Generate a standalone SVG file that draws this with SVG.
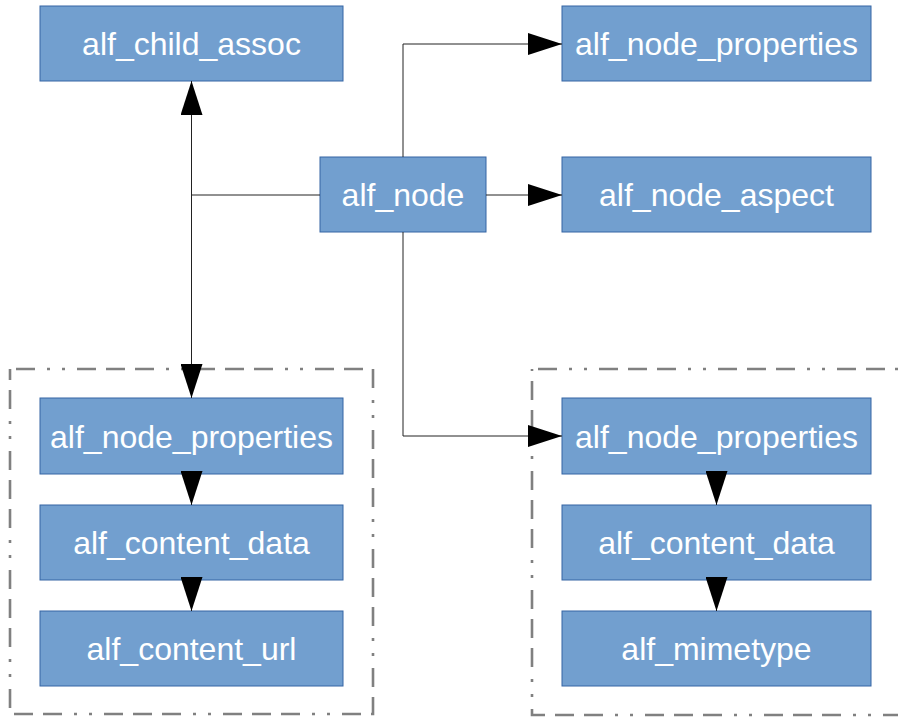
<svg xmlns="http://www.w3.org/2000/svg" width="898" height="718" viewBox="0 0 898 718">
  <style>
    .node rect { fill: #729fcf; stroke: #3465a4; stroke-width: 1; }
    .node text { fill: #ffffff; font-family: "Liberation Sans", Arial, sans-serif; font-size: 32px; text-anchor: middle; }
    .group { fill: none; stroke: #808080; stroke-width: 2.6; stroke-dasharray: 19 10 19 10 19 12 3 12 3 12; stroke-dashoffset: 52; }
    .edge { fill: none; stroke: #222222; stroke-width: 1; marker-end: url(#arrow); }
  </style>
  <defs>
    <marker id="arrow" markerUnits="userSpaceOnUse" markerWidth="34" markerHeight="22" refX="34" refY="11" orient="auto" viewBox="0 0 34 22">
      <path d="M0,0 L34,11 L0,22 Z" fill="#000000"/>
    </marker>
  </defs>

  <!-- dashed groupings -->
  <g id="groups">
    <rect class="group" x="10" y="369" width="363" height="345"/>
    <rect class="group" x="532" y="369" width="372" height="346"/>
  </g>

  <!-- nodes -->
  <g id="alf_child_assoc" class="node">
    <rect x="40" y="6" width="303" height="75"/>
    <text x="191.5" y="55">alf_child_assoc</text>
  </g>
  <g id="alf_node" class="node">
    <rect x="320" y="157" width="166" height="75"/>
    <text x="403" y="206">alf_node</text>
  </g>
  <g id="alf_node_properties_top" class="node">
    <rect x="562" y="6" width="309" height="75"/>
    <text x="716.5" y="55">alf_node_properties</text>
  </g>
  <g id="alf_node_aspect" class="node">
    <rect x="562" y="157" width="309" height="75"/>
    <text x="716.5" y="206">alf_node_aspect</text>
  </g>

  <g id="alf_node_properties_left" class="node">
    <rect x="40" y="398" width="303" height="76"/>
    <text x="191.5" y="448">alf_node_properties</text>
  </g>
  <g id="alf_content_data_left" class="node">
    <rect x="40" y="505" width="303" height="75"/>
    <text x="191.5" y="554">alf_content_data</text>
  </g>
  <g id="alf_content_url" class="node">
    <rect x="40" y="611" width="303" height="75"/>
    <text x="191.5" y="660">alf_content_url</text>
  </g>

  <g id="alf_node_properties_right" class="node">
    <rect x="562" y="398" width="309" height="76"/>
    <text x="716.5" y="448">alf_node_properties</text>
  </g>
  <g id="alf_content_data_right" class="node">
    <rect x="562" y="505" width="309" height="75"/>
    <text x="716.5" y="554">alf_content_data</text>
  </g>
  <g id="alf_mimetype" class="node">
    <rect x="562" y="611" width="309" height="75"/>
    <text x="716.5" y="660">alf_mimetype</text>
  </g>

  <!-- connectors -->
  <g id="connectors">
    <path class="edge" d="M320,195 H191.5 V81"/>
    <path class="edge" d="M191.5,195 V398"/>
    <path class="edge" d="M403,157 V44 H562"/>
    <path class="edge" d="M486,195 H562"/>
    <path class="edge" d="M403,232 V436 H562"/>
    <path class="edge" d="M191.5,474 V505"/>
    <path class="edge" d="M191.5,580 V611"/>
    <path class="edge" d="M716.5,474 V505"/>
    <path class="edge" d="M716.5,580 V611"/>
  </g>
</svg>
